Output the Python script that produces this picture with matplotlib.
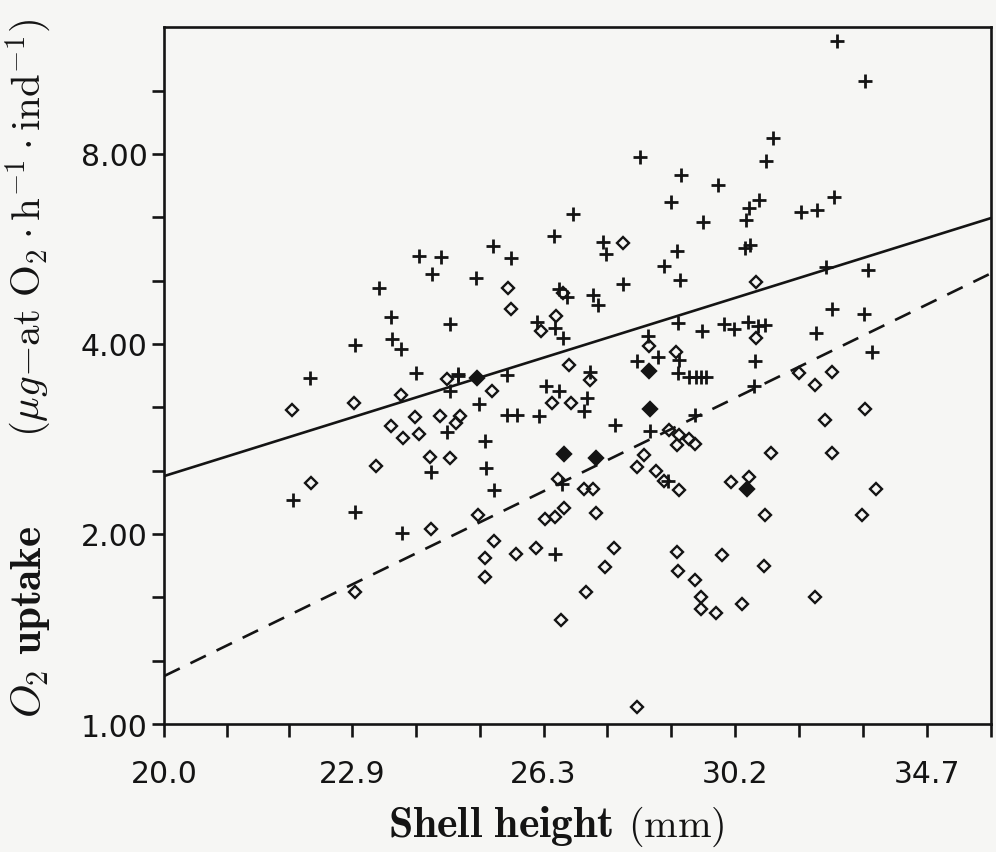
import numpy as np
import matplotlib
matplotlib.use("Agg")
import matplotlib.pyplot as plt

# ---------------- data ----------------
plus_x = [32.51, 33.16, 31.04, 30.89, 28.19, 29.04, 29.83, 28.84, 29.50, 26.86,
          26.49, 30.73, 30.51, 30.45, 31.68, 32.04, 32.44, 27.45, 27.51, 28.97,
          28.68, 29.02, 30.42, 30.53, 27.85, 32.25, 33.24, 26.60, 26.75, 27.26,
          27.36, 25.68, 25.36, 26.17, 26.67, 26.52, 28.99, 29.48, 29.95, 30.17,
          30.49, 30.71, 30.86, 32.39, 33.14, 32.02, 33.35, 28.35, 28.56, 28.14,
          30.64, 28.99, 29.22, 29.35, 29.47, 29.58, 29.01, 30.62, 29.34, 27.19,
          25.62, 24.73, 26.35, 26.60, 27.14, 27.08, 25.10, 25.61, 25.80, 26.22,
          27.69, 25.21, 28.41, 25.22, 25.38, 26.66, 26.52, 28.78, 24.03, 24.43,
          24.26, 25.05, 23.36, 23.56, 24.59, 22.96, 23.57, 23.72, 22.22, 23.99,
          24.72, 24.58, 24.52, 24.25, 21.94, 22.96, 23.75]
plus_y = [12.06, 10.42, 8.49, 7.80, 7.90, 7.41, 7.14, 6.70, 6.25, 6.43,
          5.92, 6.76, 6.56, 6.28, 6.47, 6.53, 6.83, 5.80, 5.55, 5.61,
          5.31, 5.05, 5.67, 5.73, 4.97, 5.29, 5.24, 4.89, 4.75, 4.79,
          4.61, 5.48, 5.72, 4.34, 4.09, 4.24, 4.32, 4.19, 4.30, 4.23,
          4.33, 4.27, 4.29, 4.54, 4.46, 4.17, 3.88, 4.12, 3.82, 3.76,
          3.76, 3.60, 3.55, 3.55, 3.55, 3.54, 3.77, 3.43, 3.09, 3.61,
          3.57, 3.56, 3.43, 3.37, 3.28, 3.13, 3.21, 3.09, 3.09, 3.07,
          2.98, 2.81, 2.91, 2.54, 2.35, 2.40, 1.86, 2.43, 5.52, 5.49,
          5.16, 5.08, 4.91, 4.42, 4.30, 3.98, 4.07, 3.92, 3.53, 3.60,
          3.58, 3.37, 2.90, 2.51, 2.26, 2.17, 2.01]

open_x = [27.85, 25.63, 25.69, 26.68, 30.67, 26.53, 26.25, 28.38, 28.94, 26.78,
          27.20, 25.34, 26.46, 26.83, 24.76, 24.52, 21.93, 22.94, 23.72, 23.55,
          23.97, 24.41, 24.68, 23.76, 24.03, 23.31, 24.23, 24.58, 22.23, 24.25,
          22.95, 25.08, 25.38, 25.21, 25.21, 25.79, 26.15, 26.33, 26.52, 26.69,
          26.58, 26.63, 27.07, 27.26, 27.31, 27.67, 27.50, 27.12, 28.27, 28.13,
          28.52, 28.69, 29.01, 28.80, 29.01, 29.22, 29.33, 28.97, 28.97, 28.98,
          29.34, 29.92, 30.84, 29.47, 29.47, 29.79, 30.36, 31.99, 28.13, 30.11,
          30.51, 30.85, 31.63, 32.39, 32.00, 33.18, 32.22, 31.00, 32.38, 33.43,
          33.10, 30.65]
open_y = [5.79, 4.90, 4.54, 4.82, 5.01, 4.43, 4.20, 3.97, 3.88, 3.71,
          3.51, 3.37, 3.22, 3.22, 3.08, 3.52, 3.14, 3.23, 3.32, 2.97,
          3.06, 3.07, 3.00, 2.84, 2.88, 2.56, 2.65, 2.64, 2.41, 2.04,
          1.62, 2.14, 1.95, 1.83, 1.71, 1.86, 1.90, 2.11, 2.13, 2.20,
          2.44, 1.46, 2.36, 2.36, 2.16, 1.90, 1.77, 1.62, 2.67, 2.55,
          2.52, 2.43, 2.35, 2.92, 2.87, 2.83, 2.78, 2.77, 1.87, 1.75,
          1.69, 1.85, 1.78, 1.59, 1.52, 1.50, 1.55, 1.59, 1.064, 2.42,
          2.46, 2.14, 3.60, 3.61, 3.44, 3.15, 3.03, 2.69, 2.69, 2.36,
          2.14, 4.09]

filled_x = [25.06, 28.39, 28.40, 26.69, 27.31, 30.46]
filled_y = [3.53, 3.63, 3.16, 2.68, 2.64, 2.36]

# fitted power laws  y = a * x**b  (solid, dashed)
fit_a = [0.0220, 0.000751]
fit_b = [1.576, 2.46]

xtick_labels = ["20.0", "22.9", "26.3", "30.2", "34.7"]
ytick_labels = ["1.00", "2.00", "4.00", "8.00"]

# ---------------- figure ----------------
plt.rcParams["mathtext.fontset"] = "cm"
plt.rcParams["font.family"] = ["DejaVu Sans"]

bg = "#f6f6f4"
ink = "#141414"
fig = plt.figure(figsize=(9.96, 8.53), dpi=100, facecolor=bg)
ax = fig.add_axes([0.165, 0.150, 0.830, 0.817])
ax.set_facecolor(bg)
ax.set_xscale("log")
ax.set_yscale("log")

# ticks: three log-steps between labelled values
xv = [float(s) for s in xtick_labels]
xticks, xlabs = [], []
for i in range(len(xv) - 1):
    r = (xv[i + 1] / xv[i]) ** (1 / 3)
    for k in range(3):
        xticks.append(xv[i] * r ** k)
        xlabs.append(xtick_labels[i] if k == 0 else "")
step = (xv[-1] / xv[0]) ** (1 / 12)
xticks += [xv[-1], xv[-1] * step]
xlabs += [xtick_labels[-1], ""]
xmin, xmax = xv[0], xv[-1] * step

yv = [float(s) for s in ytick_labels]
yticks, ylabs = [], []
r = 2 ** (1 / 3)
for i in range(len(yv)):
    for k in range(3 if i < len(yv) - 1 else 2):
        yticks.append(yv[i] * r ** k)
        ylabs.append(ytick_labels[i] if k == 0 else "")
ymin, ymax = yv[0], yv[-1] * r ** 2

# data
ax.plot(plus_x, plus_y, linestyle="none", marker="+", ms=10.5, mew=2.0,
        color=ink, zorder=3)
ax.plot(open_x, open_y, linestyle="none", marker="D", ms=6.6, mew=1.7,
        mfc="none", mec=ink, zorder=3)
ax.plot(filled_x, filled_y, linestyle="none", marker="D", ms=6.8, mew=1.7,
        mfc=ink, mec=ink, zorder=3)

xx = np.geomspace(xmin, xmax, 50)
for a, b, ls in zip(fit_a, fit_b, ["-", (0, (6.5, 4.5))]):
    ax.plot(xx, a * xx ** b, color=ink, lw=1.9, linestyle=ls, zorder=2)

ax.set_xlim(xmin, xmax)
ax.set_ylim(ymin, ymax)
ax.xaxis.set_major_locator(matplotlib.ticker.FixedLocator(xticks))
ax.xaxis.set_major_formatter(matplotlib.ticker.FixedFormatter(xlabs))
ax.xaxis.set_minor_locator(matplotlib.ticker.NullLocator())
ax.yaxis.set_major_locator(matplotlib.ticker.FixedLocator(yticks))
ax.yaxis.set_major_formatter(matplotlib.ticker.FixedFormatter(ylabs))
ax.yaxis.set_minor_locator(matplotlib.ticker.NullLocator())

for s in ax.spines.values():
    s.set_linewidth(1.9)
    s.set_color(ink)
ax.tick_params(axis="both", direction="out", length=9, width=1.9,
               color=ink, labelcolor=ink, labelsize=21.5)
ax.tick_params(axis="x", pad=16)
ax.tick_params(axis="y", pad=3)

# x label: bold words + roman unit
fig.text(0.390, 0.0188, r"$\mathbf{Shell\ height}$",
         ha="left", va="baseline", fontsize=31.5, color=ink)
fig.text(0.631, 0.0188, r"$\mathrm{(mm)}$",
         ha="left", va="baseline", fontsize=29, color=ink)

# y label: two pieces along a common vertical baseline
fig.text(0.041, 0.158, r"$O_2\ \mathbf{uptake}$", rotation=90,
         rotation_mode="anchor", ha="left", va="baseline",
         fontsize=31, color=ink)
fig.text(0.041, 0.488,
         r"$(\mu g\mathrm{-at}\ \mathrm{O}_2\cdot\mathrm{h}^{-1}\cdot"
         r"\mathrm{ind}^{-1})$", rotation=90, rotation_mode="anchor",
         ha="left", va="baseline", fontsize=29.5, color=ink)

fig.savefig("out.png", dpi=100, facecolor=bg)
